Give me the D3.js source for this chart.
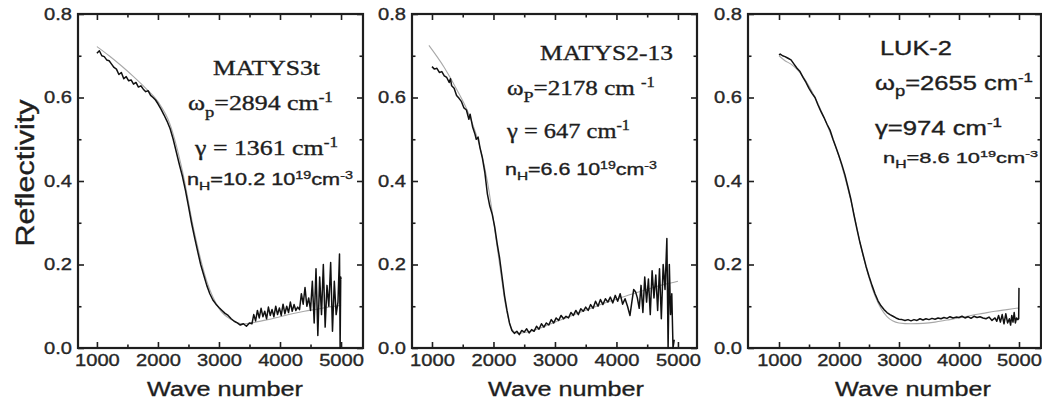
<!DOCTYPE html>
<html>
<head>
<meta charset="utf-8">
<script src="https://cdn.jsdelivr.net/npm/d3@7/dist/d3.min.js"></script>
<style>
body { margin: 0; background: #fff; }
svg text { stroke: #1e1e1e; stroke-width: 0.35px; }
</style>
</head>
<body>
<div id="chart"></div>
<script>
var width = 1042,
    height = 413;

// measured reflectivity (black) and Drude fit (grey), [wave number, R]
var matys3tData = [[1000,.706],[1040,.712],[1080,.700],[1120,.698],[1160,.690],[1200,.688],[1240,.680],[1280,.672],[1320,.668],[1360,.655],[1400,.660],[1440,.645],[1480,.650],[1520,.640],[1560,.642],[1600,.632],[1640,.636],[1680,.625],[1720,.628],[1760,.620],[1800,.614],[1840,.616],[1880,.605],[1920,.600],[1960,.594],[2000,.585],[2050,.572],[2100,.558],[2150,.543],[2200,.525],[2250,.500],[2300,.470],[2350,.440],[2400,.412],[2450,.378],[2500,.340],[2550,.300],[2600,.265],[2650,.232],[2700,.200],[2750,.175],[2800,.150],[2850,.130],[2900,.115],[2950,.105],[3000,.097],[3050,.090],[3100,.083],[3150,.078],[3200,.070],[3250,.064],[3300,.060],[3350,.055],[3400,.058],[3450,.052],[3500,.060],[3540,.058],[3570,.080],[3600,.065],[3630,.090],[3660,.072],[3690,.095],[3720,.075],[3750,.088],[3780,.070],[3810,.098],[3840,.078],[3870,.092],[3900,.075],[3930,.100],[3960,.080],[3990,.096],[4020,.078],[4050,.105],[4080,.082],[4110,.100],[4140,.085],[4170,.110],[4200,.088],[4230,.104],[4260,.090],[4290,.098],[4320,.092],[4350,.130],[4380,.105],[4410,.145],[4440,.100],[4470,.120],[4500,.090],[4530,.160],[4560,.060],[4590,.190],[4620,.030],[4650,.170],[4680,.080],[4710,.200],[4740,.050],[4770,.150],[4800,.100],[4830,.205],[4860,.040],[4890,.160],[4920,.080],[4950,.110],[4975,.225],[4985,.000],[4995,.170],[5000,.165]];
var matys3tFit = [[1000,.722],[1200,.700],[1400,.676],[1600,.650],[1800,.622],[2000,.590],[2200,.535],[2400,.425],[2600,.275],[2800,.160],[3000,.095],[3200,.068],[3400,.058],[3600,.062],[3800,.068],[4000,.075],[4200,.082],[4400,.088],[4600,.093],[4800,.098],[5000,.102]];

var matys213Data = [[1000,.674],[1040,.668],[1080,.670],[1120,.660],[1160,.662],[1200,.652],[1240,.648],[1280,.636],[1300,.645],[1320,.628],[1360,.622],[1400,.605],[1440,.598],[1480,.590],[1520,.575],[1560,.570],[1600,.548],[1620,.560],[1660,.530],[1700,.512],[1720,.500],[1750,.505],[1780,.480],[1820,.455],[1860,.420],[1900,.370],[1940,.340],[1980,.320],[2020,.290],[2060,.250],[2100,.215],[2140,.170],[2180,.125],[2220,.090],[2260,.060],[2300,.042],[2340,.035],[2380,.040],[2420,.032],[2460,.042],[2500,.038],[2540,.046],[2580,.036],[2620,.044],[2660,.040],[2700,.052],[2740,.045],[2780,.058],[2820,.050],[2860,.060],[2900,.055],[2940,.068],[2980,.060],[3020,.072],[3060,.066],[3100,.078],[3140,.070],[3180,.076],[3220,.072],[3260,.085],[3300,.078],[3340,.090],[3380,.080],[3420,.094],[3460,.088],[3500,.098],[3540,.090],[3580,.104],[3620,.095],[3660,.112],[3700,.100],[3740,.116],[3780,.104],[3820,.118],[3860,.110],[3900,.122],[3940,.108],[3980,.126],[4020,.112],[4060,.130],[4100,.105],[4140,.118],[4180,.100],[4220,.078],[4250,.110],[4280,.140],[4310,.135],[4340,.120],[4370,.095],[4400,.150],[4430,.085],[4460,.170],[4490,.110],[4520,.165],[4550,.080],[4580,.185],[4610,.120],[4640,.175],[4670,.090],[4700,.190],[4730,.070],[4760,.200],[4790,.140],[4820,.262],[4840,.000],[4860,.200],[4880,.080],[4900,.130],[4920,.000],[4940,.020]];
var matys213Fit = [[950,.725],[1200,.672],[1400,.620],[1600,.560],[1800,.470],[1900,.400],[2000,.305],[2100,.200],[2200,.100],[2300,.045],[2400,.035],[2600,.040],[2800,.050],[3000,.062],[3200,.073],[3400,.085],[3600,.096],[3800,.107],[4000,.117],[4200,.127],[4400,.136],[4600,.145],[4800,.153],[5000,.160]];

var luk2Data = [[1000,.702],[1020,.704],[1060,.700],[1100,.698],[1150,.694],[1200,.690],[1250,.680],[1300,.670],[1350,.662],[1400,.648],[1450,.636],[1500,.622],[1550,.610],[1600,.600],[1650,.582],[1700,.566],[1750,.552],[1800,.536],[1850,.522],[1900,.500],[1950,.480],[2000,.460],[2050,.438],[2100,.414],[2150,.385],[2200,.355],[2250,.318],[2300,.284],[2350,.252],[2400,.224],[2450,.196],[2500,.172],[2550,.150],[2600,.130],[2650,.113],[2700,.101],[2750,.092],[2800,.085],[2850,.080],[2900,.076],[2950,.072],[3000,.069],[3050,.068],[3100,.066],[3150,.068],[3200,.065],[3250,.068],[3300,.066],[3350,.070],[3400,.067],[3450,.070],[3500,.068],[3550,.071],[3600,.069],[3650,.072],[3700,.070],[3750,.073],[3800,.071],[3850,.075],[3900,.072],[3950,.074],[4000,.073],[4050,.076],[4100,.072],[4150,.075],[4200,.071],[4250,.076],[4300,.073],[4350,.075],[4400,.072],[4450,.070],[4500,.074],[4550,.066],[4600,.072],[4630,.064],[4660,.078],[4690,.062],[4720,.080],[4750,.058],[4780,.082],[4810,.060],[4840,.070],[4860,.055],[4880,.078],[4900,.062],[4920,.085],[4940,.060],[4960,.072],[4980,.068],[4995,.070],[5000,.144]];
var luk2Fit = [[1000,.700],[1100,.688],[1200,.680],[1400,.650],[1600,.600],[1800,.535],[2000,.458],[2200,.352],[2400,.222],[2600,.125],[2800,.075],[3000,.060],[3200,.058],[3400,.059],[3600,.062],[3800,.067],[4000,.072],[4200,.078],[4400,.083],[4600,.088],[4800,.092],[5000,.096]];

var xMajor = [1000, 2000, 3000, 4000, 5000];
var xMinor = [1500, 2500, 3500, 4500];
var yMajor = [0, 0.2, 0.4, 0.6, 0.8];
var yMinor = [0.1, 0.3, 0.5, 0.7];

// annotation lines: [text, "sub"/"sup"/undefined]
var matys3tNotes = [
  [["MATYS3t"]],
  [["\u03c9"], ["p", "sub"], ["=2894 cm"], ["-1", "sup"]],
  [["\u03b3 = 1361 cm"], ["-1", "sup"]],
  [["n"], ["H", "sub"], ["=10.2 10"], ["19", "sup"], ["cm"], ["-3", "sup"]]
];
var matys213Notes = [
  [["MATYS2-13"]],
  [["\u03c9"], ["P", "sub"], ["=2178 cm "], ["-1", "sup"]],
  [["\u03b3 = 647 cm"], ["-1", "sup"]],
  [["n"], ["H", "sub"], ["=6.6 10"], ["19", "sup"], ["cm"], ["-3", "sup"]]
];
var luk2Notes = [
  [["LUK-2"]],
  [["\u03c9"], ["p", "sub"], ["=2655 cm"], ["-1", "sup"]],
  [["\u03b3=974 cm"], ["-1", "sup"]],
  [["n"], ["H", "sub"], ["=8.6 10"], ["19", "sup"], ["cm"], ["-3", "sup"]]
];

var SERIF = "'Liberation Serif','Times New Roman',serif";
var SANS = "Arial,'Liberation Sans',sans-serif";

var panels = [
  { left: 78, right: 363, domain: [690, 5360], data: matys3tData, fit: matys3tFit, notes: matys3tNotes, titleX: 225,
    place: [ {x: 213, y: 75, w: 107, size: 20, font: SERIF},
             {x: 188, y: 110, w: 145, size: 21, font: SERIF},
             {x: 195, y: 155, w: 143, size: 21, font: SERIF},
             {x: 187, y: 185, w: 166, size: 16, font: SANS} ] },
  { left: 412, right: 697, domain: [675, 5310], data: matys213Data, fit: matys213Fit, notes: matys213Notes, titleX: 566,
    place: [ {x: 540, y: 60, w: 133, size: 21, font: SERIF},
             {x: 507, y: 95, w: 148, size: 21, font: SERIF},
             {x: 507, y: 138, w: 123, size: 21, font: SERIF},
             {x: 505, y: 175, w: 152, size: 16, font: SANS} ] },
  { left: 748, right: 1041, domain: [483, 5367], data: luk2Data, fit: luk2Fit, notes: luk2Notes, titleX: 913,
    place: [ {x: 880, y: 55, w: 72, size: 20, font: SANS},
             {x: 875, y: 90, w: 158, size: 20, font: SANS},
             {x: 875, y: 135, w: 127, size: 20, font: SANS},
             {x: 883, y: 163, w: 155, size: 15, font: SANS} ] }
];

var plotTop = 14, plotBottom = 348;
var ink = "#1e1e1e";

var svg = d3.select("#chart").append("svg")
    .attr("width", width)
    .attr("height", height)
    .style("display", "block");

var y = d3.scaleLinear().domain([0, 0.8]).range([plotBottom, plotTop]);

function stretch(sel, sx) {
  sel.attr("transform", "scale(" + sx + ",1)");
}

function richLine(g, parts, p) {
  var t = g.append("text")
    .attr("font-family", p.font)
    .attr("font-size", p.size)
    .attr("fill", ink);
  var shift = 0;
  parts.forEach(function(part) {
    var s = t.append("tspan").text(part[0]);
    var target = 0;
    if (part[1] == "sub") { target = p.size * 0.32; s.attr("font-size", p.size * 0.72); }
    if (part[1] == "sup") { target = -p.size * 0.4; s.attr("font-size", p.size * 0.66); }
    s.attr("dy", target - shift);
    shift = target;
  });
  var w = t.node().getComputedTextLength();
  t.attr("transform", "translate(" + p.x + "," + p.y + ") scale(" + (p.w / w) + ",1)");
}

panels.forEach(function(pn) {
  var x = d3.scaleLinear().domain(pn.domain).range([pn.left, pn.right]);
  var g = svg.append("g");

  // ticks, all pointing inwards
  function axis(gen, pos, values, size, labels) {
    var a = g.append("g")
      .attr("transform", pos)
      .call(gen.tickValues(values).tickSize(-size).tickPadding(labels ? 6 : 0)
        .tickFormat(labels ? labels : ""));
    a.select(".domain").remove();
    a.selectAll("line").attr("stroke", ink).attr("stroke-width", 1.6);
    return a;
  }

  var xb = axis(d3.axisBottom(x), "translate(0," + plotBottom + ")", xMajor, 6, d3.format("d"));
  axis(d3.axisBottom(x), "translate(0," + plotBottom + ")", xMinor, 3.5);
  axis(d3.axisTop(x), "translate(0," + plotTop + ")", xMajor, 6);
  axis(d3.axisTop(x), "translate(0," + plotTop + ")", xMinor, 3.5);
  var yl = axis(d3.axisLeft(y), "translate(" + pn.left + ",0)", yMajor, 6, d3.format(".1f"));
  axis(d3.axisLeft(y), "translate(" + pn.left + ",0)", yMinor, 3.5);
  axis(d3.axisRight(y), "translate(" + pn.right + ",0)", yMajor, 6);
  axis(d3.axisRight(y), "translate(" + pn.right + ",0)", yMinor, 3.5);

  xb.selectAll("text")
    .attr("font-family", SANS).attr("font-size", 16.5).attr("fill", "#2a2a2a")
    .call(stretch, 1.22);
  yl.selectAll("text")
    .attr("font-family", SANS).attr("font-size", 16.5).attr("fill", "#2a2a2a")
    .attr("x", -5)
    .call(stretch, 1.22);

  // frame
  g.append("rect")
    .attr("x", pn.left).attr("y", plotTop)
    .attr("width", pn.right - pn.left).attr("height", plotBottom - plotTop)
    .attr("fill", "none").attr("stroke", ink).attr("stroke-width", 2.2);

  var line = d3.line()
    .x(function(d) { return x(d[0]); })
    .y(function(d) { return y(d[1]); });

  g.append("path")
    .datum(pn.fit)
    .attr("d", line.curve(d3.curveMonotoneX))
    .attr("fill", "none")
    .attr("stroke", "#a8a8a8")
    .attr("stroke-width", 1.1);

  g.append("path")
    .datum(pn.data)
    .attr("d", line.curve(d3.curveLinear))
    .attr("fill", "none")
    .attr("stroke", "#111")
    .attr("stroke-width", 1.5)
    .attr("stroke-linejoin", "round");

  pn.notes.forEach(function(parts, i) {
    richLine(g, parts, pn.place[i]);
  });

  // x title
  var xt = g.append("text")
    .attr("font-family", SANS).attr("font-size", 21).attr("fill", ink)
    .attr("text-anchor", "middle")
    .text("Wave number");
  xt.attr("transform", "translate(" + pn.titleX + ",396) scale(1.2,1)");
});

svg.append("text")
  .attr("font-family", SANS).attr("font-size", 26).attr("fill", ink)
  .attr("text-anchor", "middle")
  .attr("transform", "translate(34,173) rotate(-90)")
  .attr("textLength", 147)
  .attr("lengthAdjust", "spacingAndGlyphs")
  .text("Reflectivity");
</script>
</body>
</html>
